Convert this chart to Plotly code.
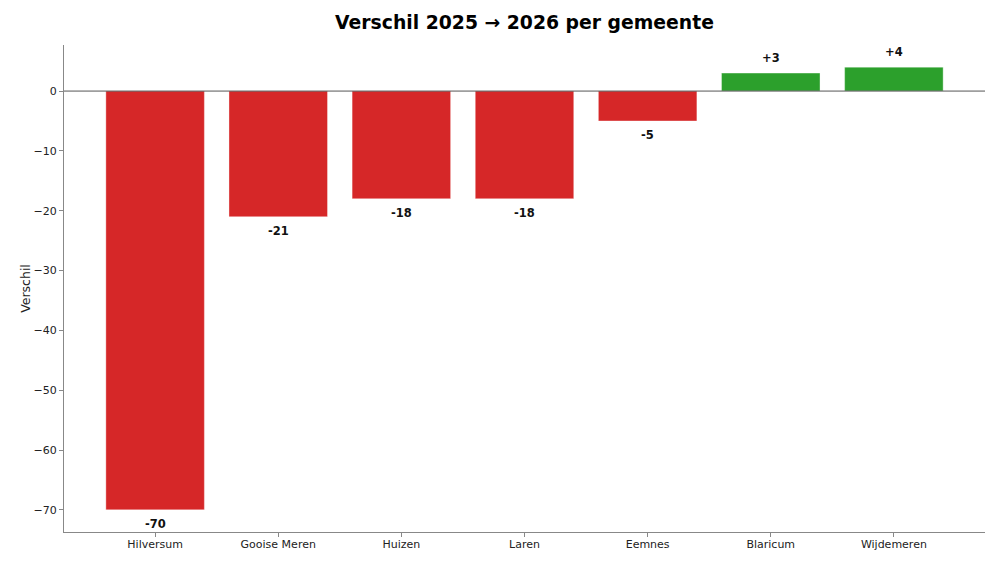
import plotly.graph_objects as go

gemeenten = ["Hilversum", "Gooise Meren", "Huizen", "Laren", "Eemnes", "Blaricum", "Wijdemeren"]
verschil = [-70, -21, -18, -18, -5, 3, 4]
y_ticks = [0, -10, -20, -30, -40, -50, -60, -70]

RED = "#d62728"
GREEN = "#2ca02c"
colors = [GREEN if v > 0 else RED for v in verschil]
FONT = "DejaVu Sans"

fig = go.Figure()
fig.add_trace(go.Bar(
    x=list(range(len(gemeenten))),
    y=verschil,
    width=0.8,
    marker=dict(color=colors, line=dict(color="rgba(255,255,255,0.6)", width=0.6)),
    hoverinfo="skip",
))

for i, v in enumerate(verschil):
    label = f"+{v}" if v > 0 else f"{v}"
    fig.add_annotation(
        x=i, y=v, text=f"<b>{label}</b>", showarrow=False,
        yanchor="middle", yshift=15 if v > 0 else -14,
        font=dict(family=FONT, size=11.5, color="#111"),
    )

fig.add_shape(type="line", xref="paper", x0=0, x1=1, yref="y", y0=0, y1=0,
              line=dict(color="#555555", width=1))

fig.update_layout(
    width=1000, height=563,
    margin=dict(l=56, r=23, t=37, b=39, autoexpand=False),
    paper_bgcolor="white", plot_bgcolor="white",
    showlegend=False,
    title=dict(text="<b>Verschil 2025 → 2026 per gemeente</b>", x=0.5, xanchor="center",
               y=1 - 14 / 563, yanchor="middle", xref="paper", automargin=False,
               font=dict(family=FONT, size=18.8, color="#000")),
    font=dict(family=FONT, size=11, color="#222"),
    bargap=0.2,
)
fig.update_xaxes(
    range=[-0.74, 6.74], automargin=False,
    tickmode="array", tickvals=list(range(len(gemeenten))), ticktext=gemeenten,
    showline=True, linecolor="#888", linewidth=1.2,
    ticks="outside", ticklen=4, tickcolor="#888", tickwidth=1,
    ticklabelstandoff=-2,
    showgrid=False, zeroline=False,
    tickfont=dict(family=FONT, size=11, color="#222"),
)
fig.update_yaxes(
    range=[-73.7, 7.7], automargin=False,
    tickmode="array", tickvals=y_ticks,
    showline=True, linecolor="#888", linewidth=1.2,
    ticks="outside", ticklen=4, tickcolor="#888", tickwidth=1,
    showgrid=False, zeroline=False,
    title=dict(text="Verschil", font=dict(family=FONT, size=12.5, color="#222"), standoff=0),
    tickfont=dict(family=FONT, size=11, color="#222"),
)

fig.write_html("out.html")
